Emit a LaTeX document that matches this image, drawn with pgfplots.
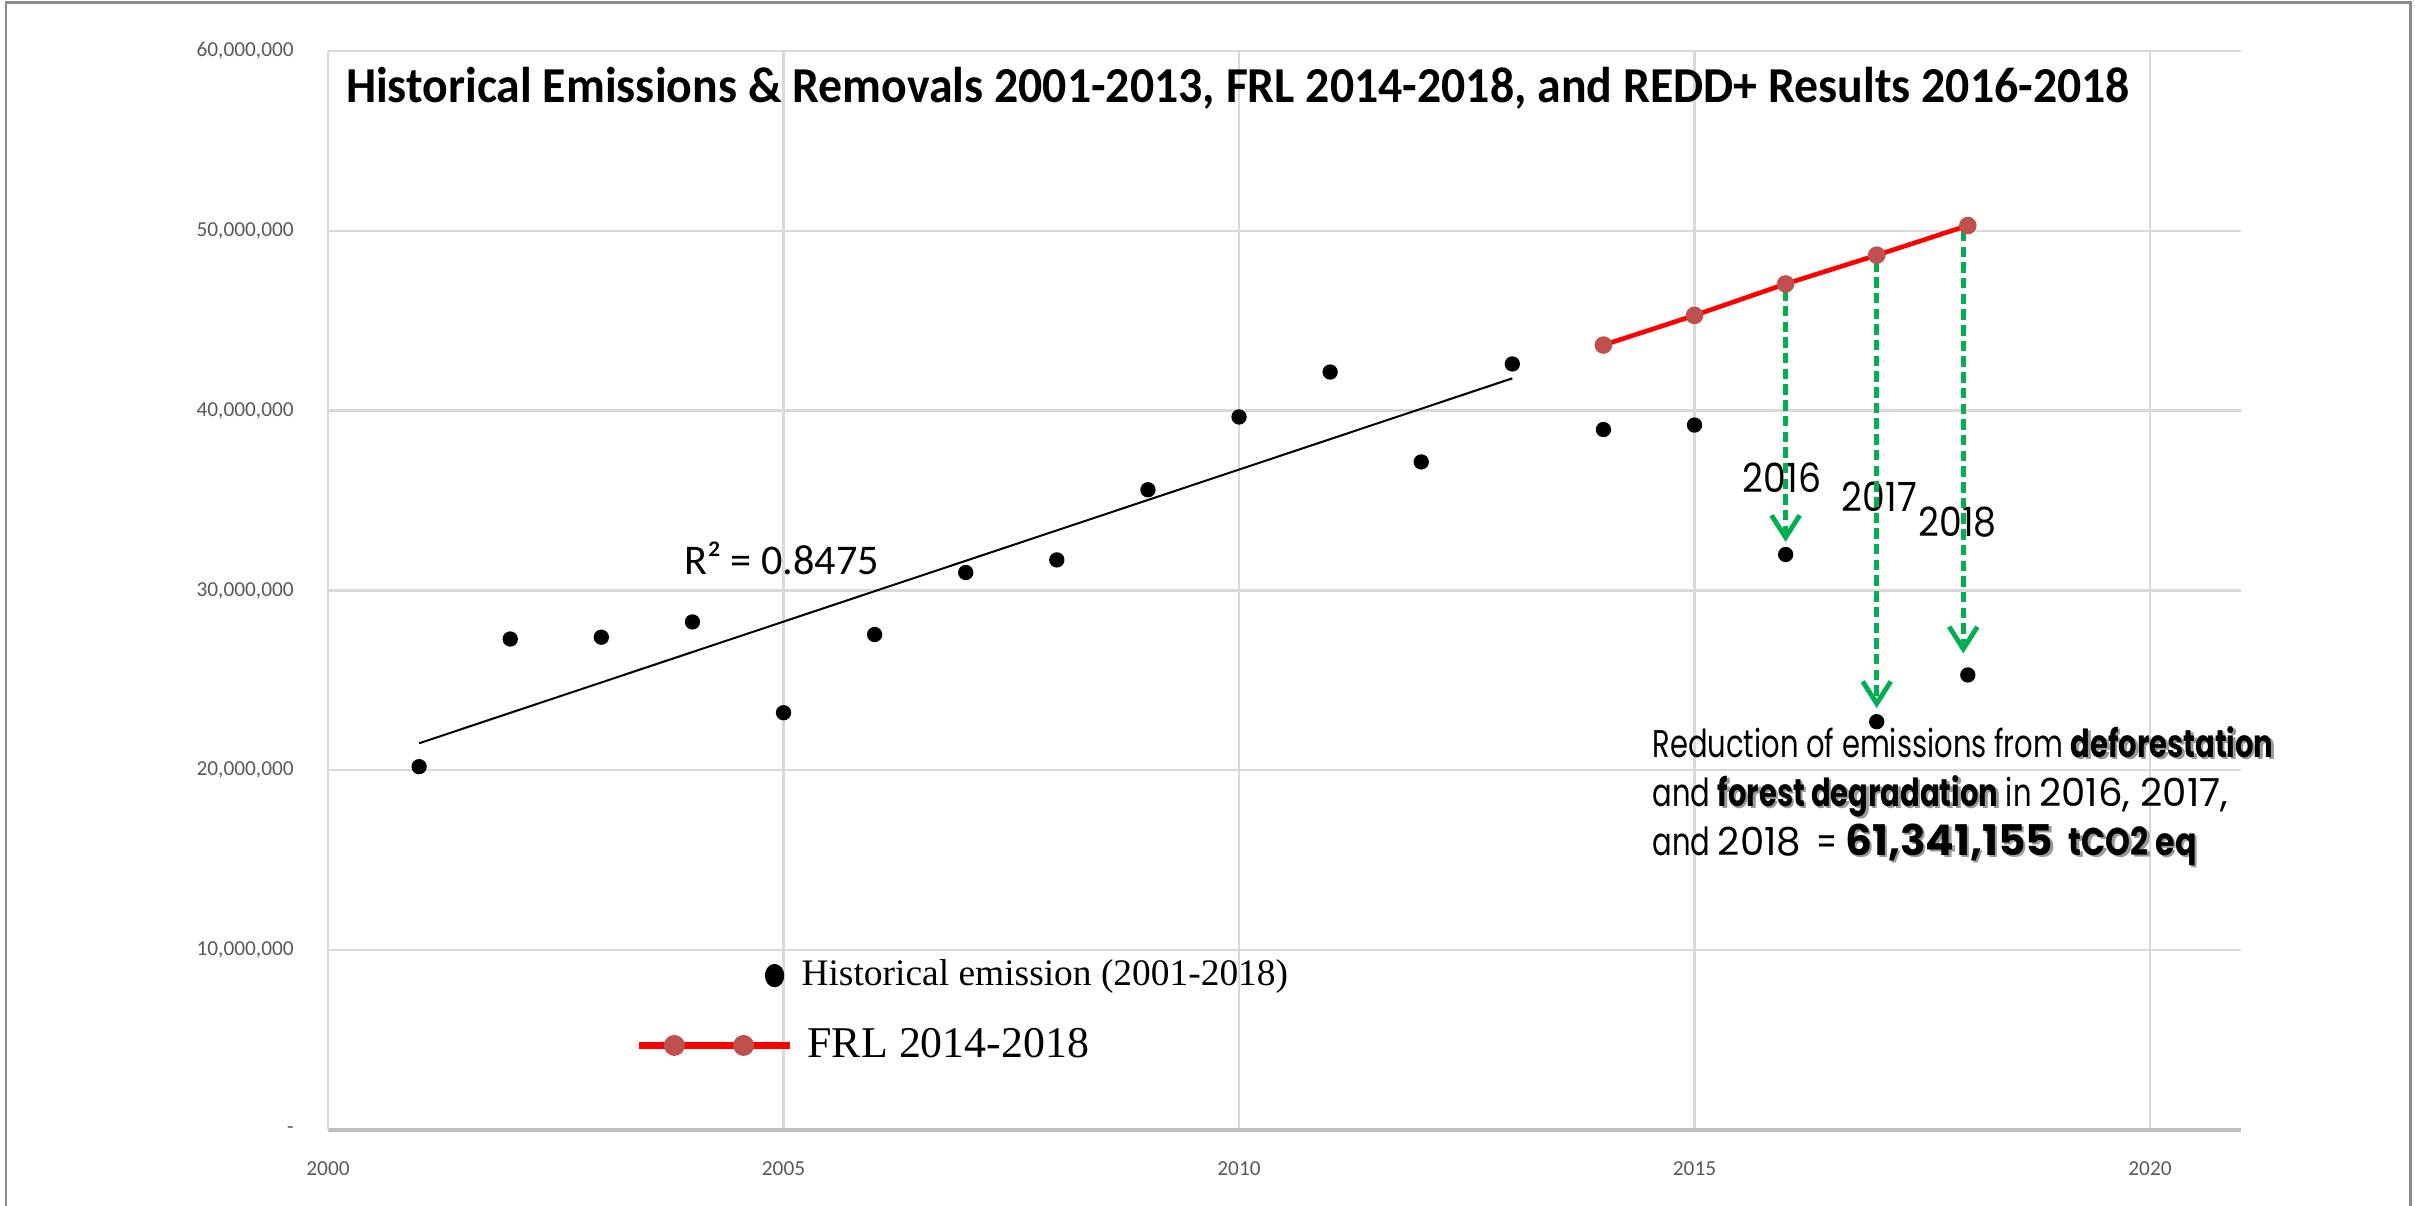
\documentclass[border=0pt]{standalone}
\usepackage{pgfplots}
\pgfplotsset{compat=1.18}
\usetikzlibrary{arrows.meta}
\usepackage{fontspec}
\setmainfont{Carlito}
\newfontfamily\titlef[FakeStretch=0.95]{Carlito}
\newfontfamily\timesf{Liberation Serif}
\newfontfamily\geo[FakeStretch=0.75]{Poppins}
\newfontfamily\geod[FakeStretch=1.0]{Poppins}
\newfontfamily\geot[FakeStretch=0.82]{Poppins}
\newfontfamily\geoy[FakeStretch=0.9]{Poppins}
\definecolor{gridgray}{HTML}{D9D9D9}
\definecolor{axgray}{HTML}{BFBFBF}
\definecolor{ticktext}{HTML}{595959}
\definecolor{frlred}{HTML}{FF0000}
\definecolor{frlmark}{HTML}{C0504D}
\definecolor{arrowgreen}{HTML}{00B050}
\newcommand\sh[1]{\makebox[0pt][l]{\hspace{0.6pt}\raisebox{-0.6pt}{\textcolor{black!40}{#1}}}{#1}}

\pgfplotstableread{
year value
2001 20200000
2002 27300000
2003 27400000
2004 28250000
2005 23200000
2006 27550000
2007 31000000
2008 31700000
2009 35600000
2010 39650000
2011 42150000
2012 37150000
2013 42600000
2014 38950000
2015 39200000
2016 32000000
2017 22700000
2018 25300000
}\histdata

\pgfplotstableread{
year value
2014 43650000
2015 45300000
2016 47050000
2017 48650000
2018 50300000
}\frldata

\begin{document}
\begin{tikzpicture}
\path[use as bounding box] (0pt,0pt) rectangle (600pt,299.6pt);
\draw[color=black!45, line width=0.7pt] (1.5pt,0pt) -- (1.5pt,298.9pt) -- (598.9pt,298.9pt) -- (598.9pt,0pt);
\begin{axis}[
  at={(81.5pt,18.9pt)}, anchor=south west,
  width=475.3pt, height=268pt, scale only axis,
  xmin=2000, xmax=2021, ymin=0, ymax=60000000,
  xtick={2000,2005,2010,2015,2020},
  xticklabels={2000,2005,2010,2015,2020},
  ytick={0,10000000,20000000,30000000,40000000,50000000,60000000},
  yticklabels={{-},{10,000,000},{20,000,000},{30,000,000},{40,000,000},{50,000,000},{60,000,000}},
  scaled y ticks=false,
  major tick length=0pt,
  grid=major,
  major grid style={gridgray, line width=0.6pt},
  axis x line*=bottom, axis y line*=left,
  x axis line style={axgray, line width=1.1pt},
  y axis line style={gridgray, line width=0.6pt},
  yticklabel style={font=\fontsize{5.3}{6}\selectfont, text=ticktext, xshift=-5pt},
  xticklabel style={font=\fontsize{5.3}{6}\selectfont, text=ticktext, yshift=-4.5pt},
  clip=false,
  legend cell align=left,
  legend style={draw=none, fill=none, inner sep=0pt, row sep=5pt,
    font=\timesf\fontsize{9.3}{11}\selectfont,
    at={(rel axis cs:0.1602,0.166)}, anchor=north west},
]
% trend line
\addplot[black, line width=0.5pt, forget plot] coordinates {(2001,21500000) (2013,41800000)};
% historical
\addplot[only marks, mark=*, mark size=1.7pt, black, forget plot] table[x=year,y=value] {\histdata};
% FRL
\addplot[frlred, line width=1.15pt, mark=*, mark options={frlmark, mark size=1.6pt}, forget plot] table[x=year,y=value] {\frldata};
% year labels
\node[font=\geoy\fontsize{10}{11}\selectfont] at (axis cs:2015.96,36300000) {2016};
\node[font=\geoy\fontsize{10}{11}\selectfont] at (axis cs:2017.03,35190000) {2017};
\node[font=\geoy\fontsize{10}{11}\selectfont] at (axis cs:2017.89,33800000) {2018};
% arrows
\addplot[arrowgreen, line width=1.2pt, dash pattern=on 2.6pt off 1.3pt, -{Straight Barb[length=5.5pt,width=7pt,line width=1.2pt]}, forget plot] coordinates {(2016,46700000) (2016,32700000)};
\addplot[arrowgreen, line width=1.2pt, dash pattern=on 2.6pt off 1.3pt, -{Straight Barb[length=5.5pt,width=7pt,line width=1.2pt]}, forget plot] coordinates {(2017,48300000) (2017,23460000)};
\addplot[arrowgreen, line width=1.2pt, dash pattern=on 2.6pt off 1.3pt, -{Straight Barb[length=5.5pt,width=7pt,line width=1.2pt]}, forget plot] coordinates {(2017.95,50000000) (2017.95,26500000)};
% title
\node[anchor=west, inner sep=0pt, font=\titlef\bfseries\fontsize{12.5}{14}\selectfont] at (rel axis cs:0.009,0.966)
  {Historical Emissions \& Removals 2001-2013, FRL 2014-2018, and REDD+ Results 2016-2018};
% R2
\node[font=\fontsize{10.5}{12}\selectfont] at (axis cs:2004.98,31760000) {R² = 0.8475};
% annotation
\node[anchor=west, align=left, inner sep=0pt, font=\geo\fontsize{9.6}{12.2}\selectfont] at (axis cs:2014.53,18500000)
  {Reduction of emissions from \sh{\bfseries deforestation}\\
   and \sh{\bfseries forest degradation} in {\geod 2016, 2017,}\\
   and {\geod 2018}\ \ = \sh{\geod\bfseries\fontsize{10.5}{12}\selectfont 61,341,155}\ \ \sh{\geot\bfseries tCO2 eq}};
% legend
\addlegendimage{legend image code/.code={
  \path[draw=none,fill=none] (0pt,0pt) -- (37.5pt,0pt);
  \fill[black] (33.7pt,0pt) ellipse (2.2pt and 2.7pt);}}
\addlegendentry{Historical emission (2001-2018)}
\addlegendimage{legend image code/.code={
  \draw[frlred, line width=1.8pt] (0pt,0pt) -- (37.5pt,0pt);
  \fill[frlmark] (8.8pt,0pt) circle (2.4pt);
  \fill[frlmark] (26pt,0pt) circle (2.4pt);}}
\addlegendentry{\hspace{1.5pt}\fontsize{10.9}{12}\selectfont FRL 2014-2018}
\end{axis}
\end{tikzpicture}
\end{document}
